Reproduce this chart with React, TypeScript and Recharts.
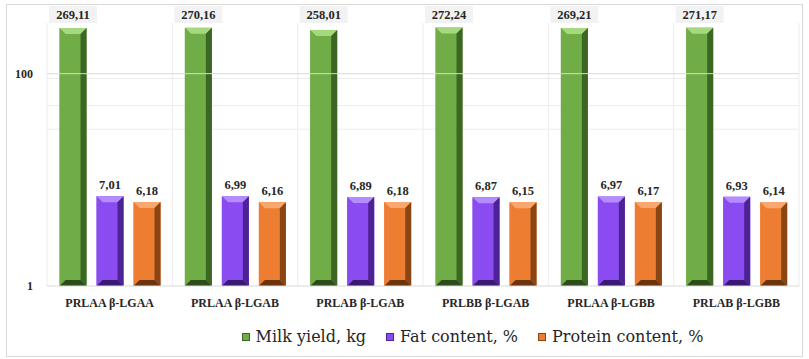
import { BarChart, Bar, XAxis, YAxis, CartesianGrid, LabelList, Legend, ReferenceLine } from "recharts";

const categories = ["PRLAA β-LGAA", "PRLAA β-LGAB", "PRLAB β-LGAB", "PRLBB β-LGAB", "PRLAA β-LGBB", "PRLAB β-LGBB"];
const milkYield = [269.11, 270.16, 258.01, 272.24, 269.21, 271.17];
const fatContent = [7.01, 6.99, 6.89, 6.87, 6.97, 6.93];
const proteinContent = [6.18, 6.16, 6.18, 6.15, 6.17, 6.14];
const yTicks = [1, 100];
const minorGrid = [20, 30, 40, 50, 60, 70, 80, 90];

const data = categories.map((name, i) => ({
  name,
  milk: milkYield[i],
  fat: fatContent[i],
  protein: proteinContent[i],
}));

const SERIES = [
  { key: "milk", name: "Milk yield, kg", fill: "#70ad47", light: "#a6d87f", dark: "#3b6623", darker: "#2c4d1a" },
  { key: "fat", name: "Fat content, %", fill: "#8a4cf0", light: "#b48cff", dark: "#4c2294", darker: "#391a70" },
  { key: "protein", name: "Protein content, %", fill: "#ed7d31", light: "#f8a86e", dark: "#8a4514", darker: "#6a340e" },
];

const SERIF = "Times New Roman, Liberation Serif, serif";
const fmt = (v: number) => v.toFixed(2).replace(".", ",");

function bevelShape(s: (typeof SERIES)[number]) {
  return (props: any) => {
    const { x, y, width: w, height: h } = props;
    if (!w || !h) return <g />;
    const b = Math.min(6, w / 4, h / 2);
    return (
      <g>
        <rect x={x} y={y} width={w} height={h} fill={s.fill} />
        <polygon points={`${x},${y} ${x + w},${y} ${x + w - b},${y + b} ${x + b},${y + b}`} fill={s.light} />
        <polygon points={`${x},${y} ${x + b},${y + b} ${x + b},${y + h - b} ${x},${y + h}`} fill={s.fill} opacity={0.85} />
        <polygon points={`${x + w},${y} ${x + w},${y + h} ${x + w - b},${y + h - b} ${x + w - b},${y + b}`} fill={s.dark} />
        <polygon points={`${x},${y + h} ${x + w},${y + h} ${x + w - b},${y + h - b} ${x + b},${y + h - b}`} fill={s.darker} />
      </g>
    );
  };
}

function MilkLabel(props: any) {
  const { x, width, value } = props;
  const cx = x + width / 2;
  return (
    <g>
      <rect x={cx - 24} y={6} width={48} height={17} fill="#f2f2f2" />
      <text x={cx} y={19} textAnchor="middle" fontFamily={SERIF} fontWeight="bold" fontSize={12.5} fill="#262626">
        {fmt(value)}
      </text>
    </g>
  );
}

function SmallLabel(props: any) {
  const { x, y, width, value } = props;
  return (
    <text x={x + width / 2} y={y - 7} textAnchor="middle" fontFamily={SERIF} fontWeight="bold" fontSize={12.5} fill="#262626">
      {fmt(value)}
    </text>
  );
}

function LegendContent() {
  return (
    <div style={{ display: "flex", justifyContent: "center", paddingTop: 8, paddingLeft: 146, fontFamily: "DejaVu Serif", fontSize: 16, color: "#262626" }}>
      {SERIES.map((s) => (
        <div key={s.key} style={{ display: "flex", alignItems: "center", margin: "0 10px" }}>
          <span style={{ width: 8, height: 8, background: s.fill, border: `1px solid ${s.dark}`, marginRight: 6, boxSizing: "border-box" }} />
          <span>{s.name}</span>
        </div>
      ))}
    </div>
  );
}

const tickStyle = { fontFamily: SERIF, fontWeight: "bold", fontSize: 12, fill: "#262626" };

export default function App() {
  return (
    <div style={{ position: "absolute", left: 0, top: 0, width: 809, height: 359, background: "#fff" }}>
      <div style={{ position: "absolute", left: 6, top: 4, width: 797, height: 353, border: "1px solid #d9d9d9", boxSizing: "border-box" }} />
      <BarChart
        width={809}
        height={359}
        data={data}
        margin={{ top: 23, right: 10, left: 0, bottom: 0 }}
        barCategoryGap="10%"
        barGap={10}
      >
        <CartesianGrid
          stroke="#ececec"
          horizontalValues={minorGrid}
          verticalCoordinatesGenerator={({ offset }: any) =>
            categories.map((_, i) => offset.left + (i * offset.width) / categories.length).concat(offset.left + offset.width)
          }
        />
        <ReferenceLine y={100} stroke="#d9d9d9" />
        <XAxis
          dataKey="name"
          height={33}
          axisLine={{ stroke: "#d9d9d9" }}
          tickLine={false}
          tick={tickStyle}
          tickMargin={6}
        />
        <YAxis
          scale="log"
          domain={[1, 300]}
          ticks={yTicks}
          allowDataOverflow
          width={47}
          axisLine={false}
          tickLine={false}
          tickMargin={8}
          tick={tickStyle}
        />
        <Legend verticalAlign="bottom" height={40} content={<LegendContent />} />
        {SERIES.map((s) => (
          <Bar key={s.key} dataKey={s.key} name={s.name} fill={s.fill} shape={bevelShape(s)} isAnimationActive={false}>
            <LabelList dataKey={s.key} content={s.key === "milk" ? <MilkLabel /> : <SmallLabel />} />
          </Bar>
        ))}
      </BarChart>
    </div>
  );
}
